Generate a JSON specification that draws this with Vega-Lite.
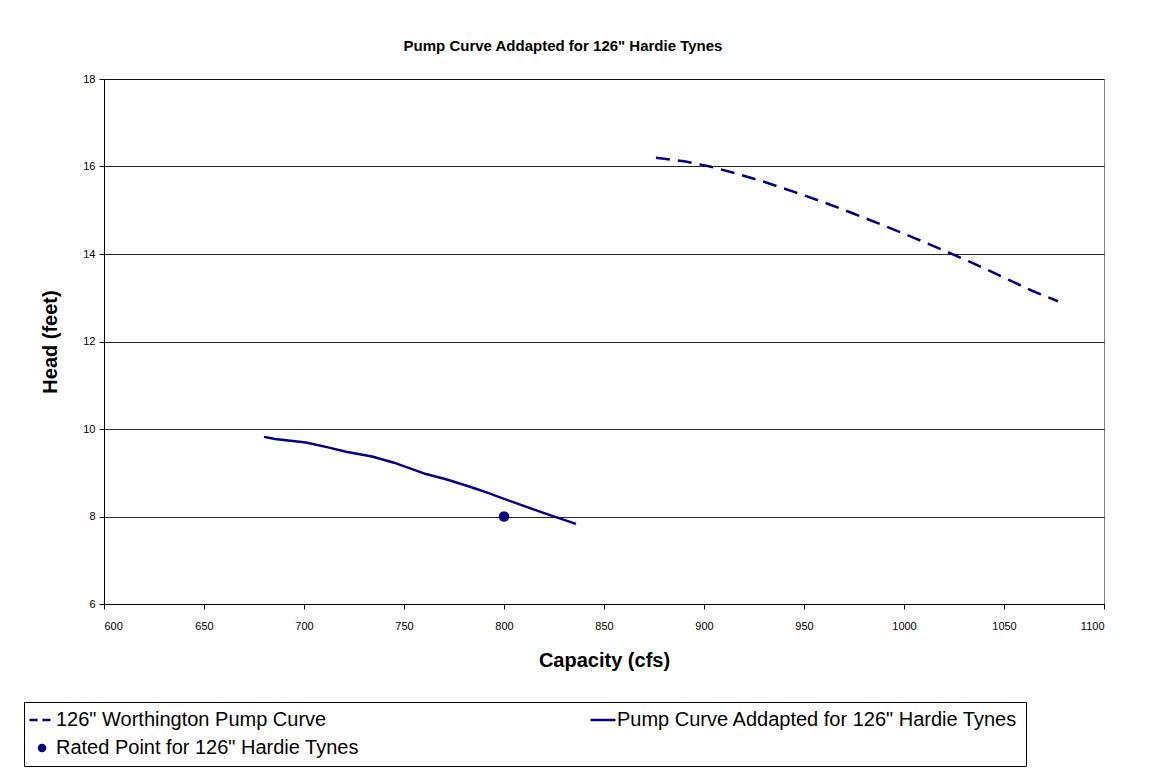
{
  "$schema": "https://vega.github.io/schema/vega-lite/v6.json",
  "autosize": {"type": "none"},
  "width": 1000,
  "height": 525,
  "padding": {"left": 104, "top": 79, "right": 46, "bottom": 168},
  "background": "white",
  "title": {
    "text": "Pump Curve Addapted for 126\" Hardie Tynes",
    "font": "Liberation Sans",
    "fontSize": 15,
    "fontWeight": "bold",
    "color": "black",
    "offset": 19,
    "dx": -41,
    "anchor": "middle"
  },
  "data": {
    "values": [
      {"series": "126\" Worthington Pump Curve", "cfs": 876, "head": 16.2},
      {"series": "126\" Worthington Pump Curve", "cfs": 890, "head": 16.12},
      {"series": "126\" Worthington Pump Curve", "cfs": 903, "head": 16.0},
      {"series": "126\" Worthington Pump Curve", "cfs": 917, "head": 15.83},
      {"series": "126\" Worthington Pump Curve", "cfs": 930, "head": 15.65},
      {"series": "126\" Worthington Pump Curve", "cfs": 945, "head": 15.42},
      {"series": "126\" Worthington Pump Curve", "cfs": 960, "head": 15.18},
      {"series": "126\" Worthington Pump Curve", "cfs": 975, "head": 14.92},
      {"series": "126\" Worthington Pump Curve", "cfs": 990, "head": 14.65},
      {"series": "126\" Worthington Pump Curve", "cfs": 1005, "head": 14.37},
      {"series": "126\" Worthington Pump Curve", "cfs": 1020, "head": 14.08},
      {"series": "126\" Worthington Pump Curve", "cfs": 1035, "head": 13.78},
      {"series": "126\" Worthington Pump Curve", "cfs": 1050, "head": 13.46},
      {"series": "126\" Worthington Pump Curve", "cfs": 1064, "head": 13.16},
      {"series": "126\" Worthington Pump Curve", "cfs": 1077, "head": 12.92},
      {"series": "Pump Curve Addapted for 126\" Hardie Tynes", "cfs": 680, "head": 9.82},
      {"series": "Pump Curve Addapted for 126\" Hardie Tynes", "cfs": 685.5, "head": 9.77},
      {"series": "Pump Curve Addapted for 126\" Hardie Tynes", "cfs": 701, "head": 9.69},
      {"series": "Pump Curve Addapted for 126\" Hardie Tynes", "cfs": 712, "head": 9.58},
      {"series": "Pump Curve Addapted for 126\" Hardie Tynes", "cfs": 721, "head": 9.48},
      {"series": "Pump Curve Addapted for 126\" Hardie Tynes", "cfs": 734, "head": 9.37},
      {"series": "Pump Curve Addapted for 126\" Hardie Tynes", "cfs": 745, "head": 9.23},
      {"series": "Pump Curve Addapted for 126\" Hardie Tynes", "cfs": 761, "head": 8.97},
      {"series": "Pump Curve Addapted for 126\" Hardie Tynes", "cfs": 771, "head": 8.85},
      {"series": "Pump Curve Addapted for 126\" Hardie Tynes", "cfs": 783, "head": 8.68},
      {"series": "Pump Curve Addapted for 126\" Hardie Tynes", "cfs": 792, "head": 8.54},
      {"series": "Pump Curve Addapted for 126\" Hardie Tynes", "cfs": 799, "head": 8.42},
      {"series": "Pump Curve Addapted for 126\" Hardie Tynes", "cfs": 813, "head": 8.19},
      {"series": "Pump Curve Addapted for 126\" Hardie Tynes", "cfs": 823, "head": 8.03},
      {"series": "Pump Curve Addapted for 126\" Hardie Tynes", "cfs": 836, "head": 7.83},
      {"series": "Rated Point for 126\" Hardie Tynes", "cfs": 800, "head": 8.0}
    ]
  },
  "encoding": {
    "x": {
      "field": "cfs",
      "type": "quantitative",
      "scale": {"domain": [600, 1100], "nice": false, "zero": false},
      "axis": {
        "title": "Capacity (cfs)",
        "values": [600, 650, 700, 750, 800, 850, 900, 950, 1000, 1050, 1100],
        "format": "d",
        "grid": false,
        "labelPadding": 11,
        "titlePadding": 19
      }
    },
    "y": {
      "field": "head",
      "type": "quantitative",
      "scale": {"domain": [6, 18], "nice": false, "zero": false},
      "axis": {
        "title": "Head (feet)",
        "values": [6, 8, 10, 12, 14, 16, 18],
        "grid": true,
        "labelPadding": 4,
        "titlePadding": 22
      }
    },
    "color": {
      "field": "series",
      "type": "nominal",
      "scale": {
        "domain": ["126\" Worthington Pump Curve", "Rated Point for 126\" Hardie Tynes", "Pump Curve Addapted for 126\" Hardie Tynes"],
        "range": ["#000080", "#000080", "#000080"]
      },
      "legend": {
        "title": null,
        "orient": "none",
        "legendX": -80,
        "legendY": 623,
        "columns": 2,
        "columnPadding": 226,
        "rowPadding": 8,
        "padding": 8,
        "strokeColor": "black",
        "fillColor": "white",
        "labelFont": "Liberation Sans",
        "labelFontSize": 20,
        "labelColor": "black",
        "labelLimit": 600,
        "labelOffset": 4,
        "symbolSize": 625,
        "encode": {
          "symbols": {
            "update": {
              "shape": {"signal": "datum.index === 1 ? 'circle' : 'stroke'"},
              "size": {"signal": "datum.index === 1 ? 75 : 625"},
              "strokeDash": {"signal": "datum.index === 0 ? [8, 5] : [1, 0]"},
              "fill": {"signal": "datum.index === 1 ? '#000080' : 'transparent'"},
              "stroke": {"value": "#000080"},
              "strokeWidth": {"signal": "datum.index === 1 ? 0 : 2.5"},
              "opacity": {"value": 1}
            }
          }
        }
      }
    }
  },
  "layer": [
    {
      "transform": [{"filter": "datum.series === '126\" Worthington Pump Curve'"}],
      "mark": {"type": "line", "strokeWidth": 2.5, "strokeDash": [14, 8]}
    },
    {
      "transform": [{"filter": "datum.series === 'Pump Curve Addapted for 126\" Hardie Tynes'"}],
      "mark": {"type": "line", "strokeWidth": 2.5}
    },
    {
      "transform": [{"filter": "datum.series === 'Rated Point for 126\" Hardie Tynes'"}],
      "mark": {"type": "point", "filled": true, "size": 110, "opacity": 1, "shape": "circle"}
    }
  ],
  "config": {
    "font": "Liberation Sans",
    "view": {"stroke": "#808080", "strokeWidth": 1},
    "axis": {
      "labelFont": "Liberation Sans",
      "labelFontSize": 11,
      "labelColor": "black",
      "titleFont": "Liberation Sans",
      "titleFontSize": 20,
      "titleFontWeight": "bold",
      "titleColor": "black",
      "domainColor": "black",
      "domainWidth": 1,
      "tickColor": "black",
      "tickSize": 5,
      "gridColor": "#000000",
      "gridWidth": 1,
      "gridOpacity": 0.85
    }
  }
}
